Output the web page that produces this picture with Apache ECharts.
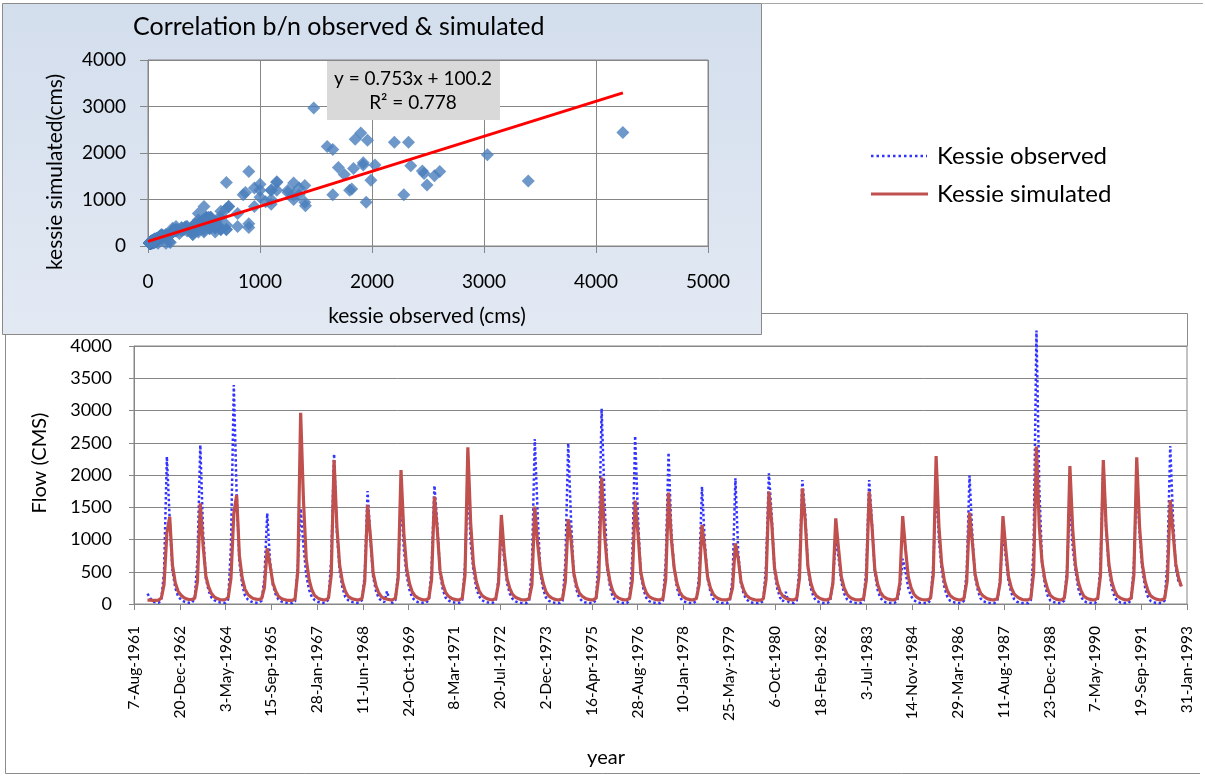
<!DOCTYPE html>
<html>
<head>
<meta charset="utf-8">
<title>Kessie observed vs simulated flow</title>
<script src="https://cdn.jsdelivr.net/npm/echarts@6/dist/echarts.min.js"></script>
<style>
  html, body { margin: 0; padding: 0; background: #ffffff; }
  #chart { width: 1205px; height: 776px; }
</style>
</head>
<body>
<div id="chart"></div>
<script>
// Monthly flow at Kessie (m³/s), one row per year, January to December, 1962-1992.
const firstYear = 1962;

const observed = [
  160, 90, 35, 25, 20, 60, 500, 2284, 1300, 520, 250, 120,   // 1962
  70, 40, 25, 20, 20, 80, 700, 2465, 1100, 400, 200, 100,    // 1963
  60, 35, 25, 20, 20, 70, 900, 3395, 1700, 650, 300, 130,    // 1964
  70, 40, 25, 20, 20, 50, 400, 1406, 650, 300, 150, 70,      // 1965
  40, 25, 20, 15, 15, 40, 600, 1480, 900, 450, 220, 110,     // 1966
  60, 35, 25, 20, 20, 70, 700, 2326, 1100, 520, 250, 110,    // 1967
  60, 35, 25, 20, 20, 60, 450, 1752, 1000, 420, 200, 90,     // 1968
  50, 30, 200, 30, 20, 60, 500, 1650, 850, 450, 220, 100,    // 1969
  55, 30, 25, 20, 20, 60, 550, 1835, 1250, 480, 220, 100,    // 1970
  55, 30, 25, 20, 20, 60, 600, 1900, 950, 520, 250, 120,     // 1971
  60, 35, 25, 20, 20, 50, 400, 1150, 700, 330, 160, 80,      // 1972
  40, 25, 20, 15, 15, 50, 600, 2558, 1400, 480, 230, 100,    // 1973
  50, 30, 20, 15, 15, 50, 650, 2491, 1300, 450, 210, 90,     // 1974
  45, 25, 20, 15, 15, 60, 800, 3030, 1650, 550, 260, 110,    // 1975
  50, 30, 20, 15, 15, 55, 700, 2605, 1350, 470, 220, 95,     // 1976
  45, 25, 20, 15, 15, 55, 650, 2346, 1100, 560, 250, 110,    // 1977
  50, 30, 20, 15, 15, 50, 450, 1819, 950, 400, 190, 80,      // 1978
  40, 25, 20, 15, 15, 45, 400, 1948, 800, 320, 150, 70,      // 1979
  35, 20, 15, 15, 15, 50, 600, 2026, 1350, 520, 230, 100,    // 1980
  40, 190, 30, 20, 15, 55, 600, 1922, 1400, 560, 250, 110,   // 1981
  50, 30, 20, 15, 15, 45, 350, 1000, 720, 340, 160, 75,      // 1982
  40, 25, 20, 15, 15, 50, 550, 1922, 1250, 500, 220, 95,     // 1983
  45, 25, 20, 15, 15, 40, 250, 700, 500, 250, 120, 60,       // 1984
  30, 20, 15, 15, 15, 55, 600, 1850, 1000, 520, 250, 115,    // 1985
  50, 30, 20, 15, 15, 50, 500, 1990, 1050, 420, 200, 85,     // 1986
  40, 25, 20, 15, 15, 45, 380, 1150, 720, 350, 170, 75,      // 1987
  35, 20, 15, 15, 15, 60, 900, 4240, 1800, 650, 300, 130,    // 1988
  50, 30, 20, 15, 15, 55, 550, 1600, 870, 520, 240, 110,     // 1989
  45, 25, 20, 15, 15, 55, 600, 2200, 1150, 560, 260, 115,    // 1990
  45, 25, 20, 15, 15, 55, 620, 1960, 1100, 540, 250, 115,    // 1991
  45, 25, 20, 15, 15, 55, 650, 2450, 1300, 560, 330, 280     // 1992
];

const simulated = [
  60, 60, 55, 55, 60, 90, 300, 1100, 1354, 600, 330, 200,    // 1962
  140, 100, 80, 70, 70, 90, 350, 1561, 900, 430, 260, 160,   // 1963
  110, 85, 70, 65, 70, 100, 400, 1400, 1690, 750, 400, 230,  // 1964
  150, 110, 85, 75, 70, 85, 250, 863, 600, 330, 200, 120,    // 1965
  85, 70, 60, 55, 55, 80, 500, 2966, 1600, 700, 380, 220,    // 1966
  130, 95, 75, 65, 65, 90, 450, 2233, 1200, 600, 340, 200,   // 1967
  120, 90, 75, 65, 65, 85, 350, 1535, 1050, 480, 280, 170,   // 1968
  110, 85, 75, 65, 65, 90, 400, 2077, 1100, 560, 320, 190,   // 1969
  125, 95, 75, 65, 65, 85, 380, 1664, 1150, 520, 300, 180,   // 1970
  120, 90, 75, 65, 65, 90, 450, 2429, 1250, 620, 350, 210,   // 1971
  135, 100, 80, 70, 65, 85, 320, 1380, 800, 400, 240, 150,   // 1972
  105, 85, 70, 65, 65, 85, 300, 1509, 940, 530, 320, 190,    // 1973
  125, 95, 75, 65, 65, 85, 350, 1313, 1000, 480, 280, 170,   // 1974
  120, 90, 75, 65, 65, 90, 420, 1960, 1100, 600, 340, 200,   // 1975
  125, 95, 75, 65, 65, 85, 360, 1602, 1100, 500, 290, 175,   // 1976
  115, 90, 75, 65, 65, 85, 380, 1726, 1000, 560, 320, 190,   // 1977
  120, 90, 75, 65, 65, 85, 300, 1225, 850, 420, 250, 155,    // 1978
  105, 80, 70, 65, 65, 80, 250, 940, 700, 350, 210, 130,     // 1979
  95, 75, 65, 60, 60, 80, 380, 1742, 1250, 560, 320, 190,    // 1980
  120, 90, 75, 65, 65, 90, 400, 1793, 1300, 580, 330, 195,   // 1981
  125, 95, 75, 65, 65, 85, 320, 1328, 850, 420, 250, 155,    // 1982
  105, 80, 70, 65, 65, 85, 370, 1742, 1200, 540, 310, 185,   // 1983
  120, 90, 75, 65, 65, 85, 330, 1364, 850, 420, 250, 155,    // 1984
  105, 80, 70, 65, 65, 90, 450, 2295, 1200, 620, 350, 210,   // 1985
  130, 95, 75, 65, 65, 85, 340, 1416, 950, 460, 270, 165,    // 1986
  120, 90, 75, 65, 65, 85, 330, 1364, 850, 420, 250, 155,    // 1987
  115, 85, 70, 65, 65, 90, 480, 2440, 1200, 650, 380, 230,   // 1988
  130, 95, 75, 65, 65, 90, 420, 2140, 1150, 600, 340, 205,   // 1989
  120, 90, 75, 65, 65, 90, 440, 2233, 1200, 620, 350, 210,   // 1990
  125, 95, 75, 65, 65, 90, 450, 2274, 1200, 620, 350, 210,   // 1991
  125, 95, 75, 65, 65, 85, 360, 1612, 1100, 620, 400, 270    // 1992
];

// Linear fit of simulated on observed
const fitSlope = 0.753;
const fitIntercept = 100.2;
const fitR2 = 0.778;

// Series names shown in the legend
const seriesNames = ['Kessie observed', 'Kessie simulated'];

// Date axis: day counts from 7-Aug-1961, a tick every 500 days
const axisOriginUTC = Date.UTC(1961, 7, 7);
const axisSpanDays = 11500;
const axisStepDays = 500;
const monthNames = ['Jan', 'Feb', 'Mar', 'Apr', 'May', 'Jun', 'Jul', 'Aug', 'Sep', 'Oct', 'Nov', 'Dec'];

const DAY_MS = 86400000;
const FONT = 'Lato, "Open Sans", sans-serif';
const GRID_GREY = '#868686';
const OBS_BLUE = '#3333ff';
const SIM_RED = '#c0504d';

function dayToLabel(v) {
  const d = new Date(axisOriginUTC + v * DAY_MS);
  return d.getUTCDate() + '-' + monthNames[d.getUTCMonth()] + '-' + d.getUTCFullYear();
}
function plainNumber(v) { return String(v); }

// x position (days since the axis origin) of each monthly value
const monthOffsets = observed.map((_, i) => (Date.UTC(firstYear, i, 1) - axisOriginUTC) / DAY_MS);

const observedLine = observed.map((v, i) => [monthOffsets[i], v]);
const simulatedLine = simulated.map((v, i) => [monthOffsets[i], v]);
const scatterPairs = observed.map((v, i) => [v, simulated[i]]);

const maxObserved = Math.max.apply(null, observed);
const fitLine = [
  [0, fitIntercept],
  [maxObserved, fitSlope * maxObserved + fitIntercept]
];

function valueAxis(extra, tickLen, label) {
  return Object.assign({
    type: 'value',
    axisLine: { show: true, lineStyle: { color: GRID_GREY, width: 1 } },
    axisTick: { show: true, inside: false, length: tickLen, lineStyle: { color: GRID_GREY, width: 1 } },
    splitLine: { show: true, lineStyle: { color: GRID_GREY, width: 1 } },
    axisLabel: Object.assign({ color: '#000', fontFamily: FONT, formatter: plainNumber }, label)
  }, extra);
}

function label(text, x, y, size, opts) {
  return Object.assign({
    type: 'text', z: 10, silent: true, x: x, y: y,
    style: {
      text: text, font: size + 'px ' + FONT, fill: '#000',
      textAlign: 'center', textVerticalAlign: 'middle',
      align: 'center', verticalAlign: 'middle'
    }
  }, opts || {});
}

const chart = echarts.init(document.getElementById('chart'), null, { renderer: 'canvas' });

const option = {
  animation: false,
  backgroundColor: '#ffffff',
  grid: [
    { left: 148, top: 60, width: 560, height: 186, show: true,
      backgroundColor: '#ffffff', borderColor: GRID_GREY, borderWidth: 1 },
    { left: 134, top: 346, width: 1053, height: 258, show: true,
      backgroundColor: '#ffffff', borderColor: GRID_GREY, borderWidth: 1 }
  ],
  xAxis: [
    valueAxis({ gridIndex: 0, min: 0, max: 5000, interval: 1000 }, 7,
      { fontSize: 19, margin: 26 }),
    valueAxis({ gridIndex: 1, min: 0, max: axisSpanDays, interval: axisStepDays,
      splitLine: { show: false } }, 6,
      { fontSize: 15.5, rotate: 90, margin: 22, formatter: dayToLabel })
  ],
  yAxis: [
    valueAxis({ gridIndex: 0, min: 0, max: 4000, interval: 1000 }, 8,
      { fontSize: 19, margin: 22 }),
    valueAxis({ gridIndex: 1, min: 0, max: 4000, interval: 500 }, 5,
      { fontSize: 18, margin: 22 })
  ],
  series: [
    {
      name: 'observed vs simulated',
      type: 'scatter',
      xAxisIndex: 0, yAxisIndex: 0,
      data: scatterPairs,
      symbol: 'diamond',
      symbolSize: 13,
      clip: false,
      itemStyle: { color: '#4a7ebb' },
      z: 3
    },
    {
      name: 'fit',
      type: 'line',
      xAxisIndex: 0, yAxisIndex: 0,
      data: fitLine,
      symbol: 'none',
      lineStyle: { color: '#ff0000', width: 3 },
      z: 4
    },
    {
      name: seriesNames[0],
      type: 'line',
      xAxisIndex: 1, yAxisIndex: 1,
      data: observedLine,
      symbol: 'none',
      clip: false,
      lineStyle: { color: OBS_BLUE, width: 2.5, type: 'dotted' },
      z: 3
    },
    {
      name: seriesNames[1],
      type: 'line',
      xAxisIndex: 1, yAxisIndex: 1,
      data: simulatedLine,
      symbol: 'none',
      clip: false,
      lineStyle: { color: SIM_RED, width: 3.2 },
      z: 4
    }
  ],
  graphic: [
    // outline of the flow chart frame
    {
      type: 'polyline', z: -20, silent: true,
      shape: { points: [[762, 313.5], [1187.5, 313.5], [1187.5, 346]] },
      style: { stroke: '#8c8c8c', lineWidth: 1, fill: null }
    },
    {
      type: 'polyline', z: -20, silent: true,
      shape: { points: [[5.5, 320], [5.5, 773.5], [1200, 773.5]] },
      style: { stroke: '#8c8c8c', lineWidth: 1, fill: null }
    },
    {
      type: 'line', z: -20, silent: true,
      shape: { x1: 762, y1: 3.5, x2: 1203, y2: 3.5 },
      style: { stroke: '#a6a6a6', lineWidth: 1 }
    },
    // correlation panel background
    {
      type: 'rect', z: -10, silent: true,
      shape: { x: 2.5, y: 3.5, width: 759, height: 331 },
      style: {
        fill: new echarts.graphic.LinearGradient(0, 0, 0, 1, [
          { offset: 0, color: '#d3deed' },
          { offset: 1, color: '#e2e9f3' }
        ]),
        stroke: '#8a8a8a', lineWidth: 1
      }
    },
    label('Correlation b/n observed & simulated', 133, 27, 25, {
      style: { text: 'Correlation b/n observed & simulated', font: '25px ' + FONT, fill: '#000',
        textAlign: 'left', textVerticalAlign: 'middle', align: 'left', verticalAlign: 'middle' }
    }),
    label('kessie observed (cms)', 427, 316, 21),
    label('kessie simulated(cms)', 55, 172, 21, { rotation: Math.PI / 2 }),
    // fit equation box
    {
      type: 'rect', z: 10, silent: true,
      shape: { x: 327, y: 61, width: 173, height: 59 },
      style: { fill: '#d9d9d9', stroke: null }
    },
    label('y = ' + fitSlope.toFixed(3) + 'x + ' + fitIntercept.toFixed(1), 413, 79, 19, { z: 11 }),
    label('R² = ' + fitR2.toFixed(3), 413, 103, 19, { z: 11 }),
    // flow chart axis titles
    label('Flow (CMS)', 40, 463, 20, { rotation: Math.PI / 2 }),
    label('year', 606, 758, 20),
    // legend
    {
      type: 'line', z: 10, silent: true,
      shape: { x1: 871, y1: 156, x2: 927, y2: 156 },
      style: { stroke: OBS_BLUE, lineWidth: 2.5, lineDash: [2.5, 3] }
    },
    {
      type: 'line', z: 10, silent: true,
      shape: { x1: 871, y1: 194, x2: 928, y2: 194 },
      style: { stroke: SIM_RED, lineWidth: 3 }
    },
    label(seriesNames[0], 937, 156, 24, {
      style: { text: seriesNames[0], font: '24px ' + FONT, fill: '#000',
        textAlign: 'left', textVerticalAlign: 'middle', align: 'left', verticalAlign: 'middle' }
    }),
    label(seriesNames[1], 937, 194, 24, {
      style: { text: seriesNames[1], font: '24px ' + FONT, fill: '#000',
        textAlign: 'left', textVerticalAlign: 'middle', align: 'left', verticalAlign: 'middle' }
    })
  ]
};

chart.setOption(option);
</script>
</body>
</html>
